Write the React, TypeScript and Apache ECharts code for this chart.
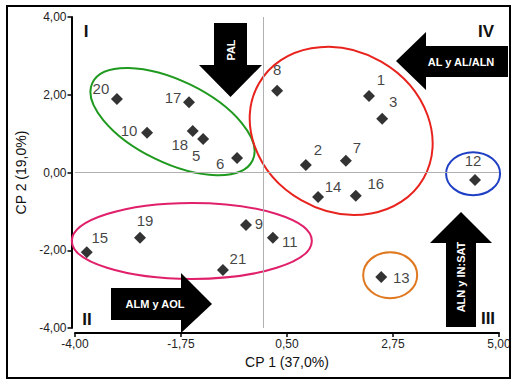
import React, { useEffect, useRef } from "react";
import * as echarts from "echarts";

// ---- data ----
const pointIds = ["1", "2", "3", "5", "6", "7", "8", "9", "10", "11", "12", "13", "14", "15", "16", "17", "18", "19", "20", "21"];
const cp1Values = [2.24, 0.9, 2.52, -1.28, -0.56, 1.75, 0.29, -0.37, -2.47, 0.2, 4.49, 2.5, 1.16, -3.75, 1.96, -1.58, -1.5, -2.62, -3.11, -0.86];
const cp2Values = [1.97, 0.19, 1.38, 0.86, 0.37, 0.3, 2.1, -1.35, 1.02, -1.68, -0.19, -2.69, -0.63, -2.05, -0.6, 1.81, 1.07, -1.68, 1.89, -2.51];
const xTickLabels = ["-4,00", "-1,75", "0,50", "2,75", "5,00"];
const yTickLabels = ["-4,00", "-2,00", "0,00", "2,00", "4,00"];
const xAxisTitle = "CP 1 (37,0%)";
const yAxisTitle = "CP 2 (19,0%)";
const groupNames = ["green", "red", "pink", "blue", "orange"];
const groupCenterX = [-1.93, 1.65, -1.52, 4.45, 2.69];
const groupCenterY = [1.31, 1.07, -1.76, -0.03, -2.64];
const arrowTexts = ["PAL", "AL y AL/ALN", "ALM y AOL", "ALN y IN:SAT"];
const quadrantLabels = ["I", "II", "III", "IV"];

// ---- styles ----
const FONT = '"Liberation Sans", Arial, Helvetica, sans-serif';
const labelOffsets: Record<string, number[]> = {
  "1": [12, -16], "2": [12, -16], "3": [11, -17], "5": [-7, 16], "6": [-17, 5],
  "7": [11, -13], "8": [0, -21], "9": [13, -1], "10": [-18, -2], "11": [17, 4],
  "12": [-2, -19], "13": [20, 0], "14": [15, -10], "15": [13, -15], "16": [20, -12],
  "17": [-16, -5], "18": [-13, 14], "19": [5, -17], "20": [-16, -11], "21": [15, -12],
};
const ellipseStyles: Record<string, { rx: number; ry: number; angle: number; color: string }> = {
  green: { rx: 89, ry: 41, angle: 26, color: "#1f9a1f" },
  red: { rx: 95, ry: 80, angle: 30, color: "#e8231e" },
  pink: { rx: 120, ry: 38, angle: 0, color: "#e0206a" },
  blue: { rx: 27, ry: 21.5, angle: 0, color: "#1f3fc4" },
  orange: { rx: 27, ry: 23, angle: 0, color: "#e0781f" },
};

export default function App() {
  const ref = useRef<HTMLDivElement>(null);
  useEffect(() => {
    document.body.style.margin = "0";
    const chart = echarts.init(ref.current!, null, { renderer: "svg", width: 518, height: 386 });

    const arrowFill = "#000";
    const arrowTextStyle = (text: string) => ({
      text,
      fill: "#fff",
      font: `bold 11px ${FONT}`,
      align: "center",
      verticalAlign: "middle",
    });
    const romanStyle = (text: string) => ({
      text,
      fill: "#111",
      font: `bold 17px ${FONT}`,
      align: "center",
      verticalAlign: "middle",
    });

    const option: any = {
      animation: false,
      backgroundColor: "#fff",
      grid: { left: 75, right: 19, top: 17, bottom: 58 },
      xAxis: [
        { type: "value", min: -4, max: 5, show: false },
        {
          type: "value",
          min: 0,
          max: 4,
          interval: 1,
          position: "bottom",
          offset: 5,
          axisLine: { show: true, onZero: false, lineStyle: { color: "#000", width: 2 } },
          axisTick: { show: true, length: 4, lineStyle: { color: "#000", width: 1.5 } },
          axisLabel: {
            margin: 5,
            color: "#222",
            fontSize: 12,
            fontFamily: FONT,
            formatter: (v: number) => xTickLabels[Math.round(v)],
          },
          splitLine: { show: false },
          name: xAxisTitle,
          nameLocation: "middle",
          nameGap: 22,
          nameTextStyle: { color: "#111", fontSize: 14, fontFamily: FONT },
        },
      ],
      yAxis: {
        type: "value",
        min: -4,
        max: 4,
        interval: 2,
        offset: 3.5,
        axisLine: { show: true, onZero: false, lineStyle: { color: "#000", width: 2 } },
        axisTick: { show: true, length: 4, lineStyle: { color: "#000", width: 1.5 } },
        axisLabel: {
          margin: 5,
          color: "#222",
          fontSize: 12,
          fontFamily: FONT,
          formatter: (v: number) => yTickLabels[Math.round((v + 4) / 2)],
        },
        splitLine: { show: false },
        name: yAxisTitle,
        nameLocation: "middle",
        nameRotate: 90,
        nameGap: 43,
        nameTextStyle: { color: "#111", fontSize: 14, fontFamily: FONT },
      },
      series: [
        {
          type: "custom",
          xAxisIndex: 0,
          yAxisIndex: 0,
          silent: true,
          z: 1,
          data: groupNames.map((n, i) => [groupCenterX[i], groupCenterY[i]]),
          renderItem: (params: any, api: any) => {
            const s = ellipseStyles[groupNames[params.dataIndex]];
            const p = api.coord([api.value(0), api.value(1)]);
            return {
              type: "ellipse",
              x: p[0],
              y: p[1],
              rotation: (-s.angle * Math.PI) / 180,
              shape: { cx: 0, cy: 0, rx: s.rx, ry: s.ry },
              style: { fill: "none", stroke: s.color, lineWidth: 2 },
            };
          },
          markLine: {
            silent: true,
            symbol: ["none", "none"],
            label: { show: false },
            lineStyle: { color: "#b0b0b0", width: 1, type: "solid" },
            data: [{ xAxis: 0 }, { yAxis: 0 }],
          },
        },
        {
          type: "scatter",
          xAxisIndex: 0,
          yAxisIndex: 0,
          z: 3,
          symbol: "diamond",
          symbolSize: 12,
          itemStyle: { color: "#000" },
          label: {
            show: true,
            position: "inside",
            formatter: "{b}",
            color: "#111",
            fontSize: 15,
            fontFamily: FONT,
          },
          data: pointIds.map((id, i) => ({
            name: id,
            value: [cp1Values[i], cp2Values[i]],
            label: { offset: labelOffsets[id] },
          })),
        },
      ],
      graphic: [
        { type: "rect", shape: { x: 7, y: 6, width: 503, height: 372 }, style: { fill: "none", stroke: "#000", lineWidth: 2 }, z: 10 },
        // PAL - down arrow
        { type: "polygon", shape: { points: [[214, 23], [247, 23], [247, 65], [262, 65], [230.5, 97], [199, 65], [214, 65]] }, style: { fill: arrowFill }, z: 5 },
        { type: "text", x: 230.5, y: 50, rotation: Math.PI / 2, style: arrowTextStyle(arrowTexts[0]), z: 6 },
        // AL y AL/ALN - left arrow
        { type: "polygon", shape: { points: [[396, 61], [426, 32], [426, 46], [508, 46], [508, 77], [426, 77], [426, 90]] }, style: { fill: arrowFill }, z: 5 },
        { type: "text", x: 461, y: 62, style: arrowTextStyle(arrowTexts[1]), z: 6 },
        // ALM y AOL - right arrow
        { type: "polygon", shape: { points: [[111, 288], [181, 288], [181, 273], [212, 304], [181, 333], [181, 320], [111, 320]] }, style: { fill: arrowFill }, z: 5 },
        { type: "text", x: 155, y: 304, style: arrowTextStyle(arrowTexts[2]), z: 6 },
        // ALN y IN:SAT - up arrow
        { type: "polygon", shape: { points: [[461, 212], [492, 243], [476, 243], [476, 327], [446, 327], [446, 243], [430, 243]] }, style: { fill: arrowFill }, z: 5 },
        { type: "text", x: 461, y: 277, rotation: Math.PI / 2, style: arrowTextStyle(arrowTexts[3]), z: 6 },
        // quadrant numerals
        { type: "text", x: 86, y: 31, style: romanStyle(quadrantLabels[0]), z: 6 },
        { type: "text", x: 87, y: 319, style: romanStyle(quadrantLabels[1]), z: 6 },
        { type: "text", x: 488, y: 318, style: romanStyle(quadrantLabels[2]), z: 6 },
        { type: "text", x: 486, y: 31, style: romanStyle(quadrantLabels[3]), z: 6 },
      ],
    };
    chart.setOption(option);
    return () => chart.dispose();
  }, []);
  return <div ref={ref} style={{ width: 518, height: 386 }} />;
}
